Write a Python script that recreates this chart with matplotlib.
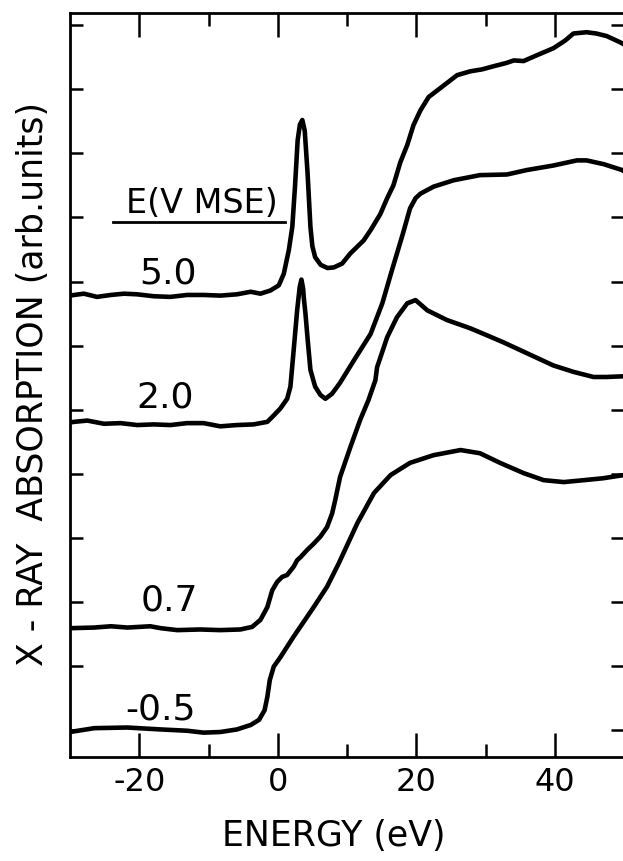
"""
X-ray absorption edge spectra at four electrode potentials (E vs MSE),
stacked with vertical offsets, arbitrary units.
"""

import matplotlib
matplotlib.use("Agg")
import matplotlib.pyplot as plt

plt.rcParams["font.family"] = ["DejaVu Sans"]
plt.rcParams["axes.unicode_minus"] = False

# ---------------------------------------------------------------------------
# Data (energy in eV, absorption in tick units)
# ---------------------------------------------------------------------------

potentials = ["5.0", "2.0", "0.7", "-0.5"]

energy_50 = [-30, -29.4, -28.0, -26.1, -24.1, -22.2, -20.3, -17.9, -15.5, -13.1,
             -10.7, -8.3, -5.9, -3.9, -2.5, -1.05, 0.15, 0.87, 1.6, 2.1, 2.5,
             2.87, 3.2, 3.55, 3.9, 4.3, 4.72, 5.0, 5.4, 6.2, 7.2, 8.1, 9.3,
             10.5, 12.4, 13.4, 14.8, 15.8, 16.7, 17.7, 18.7, 19.6, 20.6, 21.8,
             23.5, 25.9, 27.8, 29.5, 31.2, 33.0, 34.1, 35.5, 37.4, 39.8, 41.5,
             42.7, 44.6, 46.0, 47.5, 49.5, 50.0]
absorb_50 = [6.78, 6.79, 6.81, 6.76, 6.79, 6.81, 6.80, 6.77, 6.76, 6.79,
             6.79, 6.78, 6.80, 6.84, 6.81, 6.86, 6.94, 7.12, 7.49, 7.85, 8.50,
             9.20, 9.45, 9.52, 9.35, 8.70, 7.85, 7.55, 7.38, 7.26, 7.21, 7.22, 7.28,
             7.44, 7.64, 7.80, 8.05, 8.30, 8.50, 8.86, 9.13, 9.44, 9.67, 9.88,
             10.02, 10.22, 10.28, 10.31, 10.36, 10.41, 10.45, 10.44, 10.53, 10.64, 10.76,
             10.87, 10.89, 10.87, 10.83, 10.73, 10.70]

energy_20 = [-30, -29.4, -27.5, -25.1, -22.7, -20.3, -17.9, -15.5, -13.1, -10.7,
             -8.3, -5.9, -3.5, -1.5, -0.58, 0.39, 1.36, 1.83, 2.3, 2.8, 3.18,
             3.42, 3.66, 3.75, 4.0, 4.33, 4.72, 5.4, 6.16, 6.88, 7.85, 9.0,
             11.0, 13.4, 15.1, 16.5, 18.0, 19.1, 19.9, 20.6, 22.5, 25.4, 29.2,
             33.1, 36.0, 39.8, 43.2, 44.6, 47.1, 49.7, 50.0]
absorb_20 = [4.80, 4.81, 4.83, 4.78, 4.79, 4.76, 4.77, 4.76, 4.79, 4.79,
             4.74, 4.76, 4.77, 4.81, 4.91, 5.02, 5.17, 5.36, 5.93, 6.55, 6.92,
             7.03, 6.89, 6.76, 6.50, 6.08, 5.62, 5.36, 5.23, 5.17, 5.25, 5.42,
             5.77, 6.18, 6.66, 7.18, 7.72, 8.14, 8.30, 8.37, 8.48, 8.58, 8.66,
             8.67, 8.74, 8.81, 8.89, 8.89, 8.83, 8.74, 8.72]

energy_07 = [-30, -26.5, -24.1, -21.7, -18.4, -16.9, -14.5, -11.2, -8.3, -5.4,
             -3.7, -2.5, -1.5, -0.8, -0.1, 0.63, 1.35, 2.3, 2.8, 3.3, 4.24,
             5.2, 6.16, 7.13, 7.85, 8.3, 9.0, 10.5, 11.9, 13.1, 14.1, 14.34,
             15.8, 17.2, 18.7, 19.9, 21.6, 24.4, 27.8, 30.0, 32.6, 36.0, 39.8,
             42.7, 45.6, 47.5, 49.7, 50.0]
absorb_07 = [1.59, 1.60, 1.62, 1.60, 1.62, 1.59, 1.56, 1.57, 1.56, 1.57,
             1.61, 1.72, 1.92, 2.18, 2.31, 2.39, 2.42, 2.55, 2.65, 2.70, 2.81,
             2.91, 3.02, 3.17, 3.38, 3.59, 3.95, 4.42, 4.84, 5.15, 5.46, 5.66,
             6.13, 6.44, 6.66, 6.71, 6.55, 6.40, 6.27, 6.17, 6.05, 5.88, 5.69,
             5.59, 5.51, 5.51, 5.52, 5.52]

energy_m05 = [-30, -26.5, -21.7, -16.9, -13.1, -10.7, -8.3, -5.9, -3.9, -2.7,
              -1.9, -1.5, -1.15, -0.58, 0.4, 2.3, 5.2, 7.13, 8.8, 11.5, 13.9,
              16.3, 19.1, 22.5, 26.4, 29.2, 32.1, 35.5, 38.4, 41.3, 44.2, 47.0,
              50.0]
absorb_m05 = [-0.03, 0.03, 0.04, 0.01, -0.01, -0.04, -0.03, 0.01, 0.08, 0.16,
              0.31, 0.52, 0.78, 0.99, 1.14, 1.46, 1.92, 2.24, 2.60, 3.23, 3.70,
              3.98, 4.17, 4.29, 4.37, 4.32, 4.17, 4.01, 3.90, 3.87, 3.90, 3.93,
              3.98]

curves = [
    (energy_50, absorb_50),
    (energy_20, absorb_20),
    (energy_07, absorb_07),
    (energy_m05, absorb_m05),
]

# label anchor (energy, baseline) for each potential
label_x = [-15.9, -16.3, -15.6, -16.9]
label_y = [6.97, 5.04, 1.87, 0.17]

x_major = [-20, 0, 20, 40]
x_minor = [-10, 10, 30]
y_ticks = list(range(12))

# ---------------------------------------------------------------------------
# Figure
# ---------------------------------------------------------------------------

fig = plt.figure(figsize=(6.23, 8.61), dpi=100)
ax = fig.add_axes([70 / 623, 104 / 861, 554 / 623, 744 / 861])

for e, a in curves:
    ax.plot(e, a, color="black", lw=3.3,
            solid_joinstyle="round", solid_capstyle="round")

for txt, lx, ly in zip(potentials, label_x, label_y):
    ax.text(lx, ly, txt, fontsize=26, ha="center", va="baseline")

ax.text(-10.9, 8.07, "E(V MSE)", fontsize=24, ha="center", va="baseline")
ax.plot([-23.85, 1.1], [7.93, 7.93], color="black", lw=2.0)

ax.set_xlim(-30, 50)
ax.set_ylim(-0.42, 11.19)
ax.set_xticks(x_major)
ax.set_xticks(x_minor, minor=True)
ax.set_yticks(y_ticks)
ax.set_yticklabels([])

ax.tick_params(which="both", direction="in", top=True, right=True, width=1.8)
ax.tick_params(axis="x", which="major", length=17, labelsize=23, pad=7)
ax.tick_params(axis="x", which="minor", length=9.5)
ax.tick_params(axis="y", which="major", length=9.5)

for side in ["left", "bottom", "top"]:
    ax.spines[side].set_linewidth(2.0)
ax.spines["right"].set_visible(False)

ax.set_xlabel("ENERGY (eV)", fontsize=25)
ax.xaxis.set_label_coords(0.4765, -0.0828)
ax.set_ylabel("X - RAY  ABSORPTION (arb.units)", fontsize=25)
ax.yaxis.set_label_coords(-0.036, 0.501)

fig.savefig("out.png", dpi=100)
